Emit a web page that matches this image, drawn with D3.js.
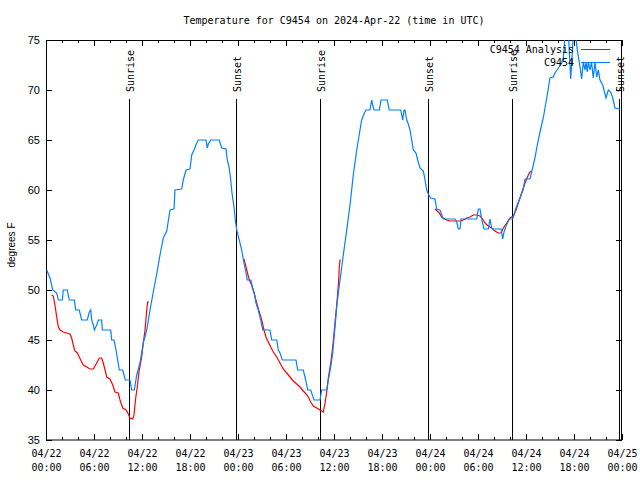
<!DOCTYPE html>
<html><head><meta charset="utf-8">
<script src="https://cdn.jsdelivr.net/npm/d3@7"></script>
<style>body{margin:0;background:#fff}svg{display:block}</style>
</head><body><svg id="c" width="640" height="480"></svg>
<script>
// ---- data ----
const titleText = "Temperature for C9454 on 2024-Apr-22 (time in UTC)";
const yLabelText = "degrees F";
const seriesNames = ["C9454 Analysis", "C9454"];
const yTicks = [35, 40, 45, 50, 55, 60, 65, 70, 75];
const majorTickHours = [0, 6, 12, 18, 24, 30, 36, 42, 48, 54, 60, 66, 72];
const minorTickHours = [2, 4, 8, 10, 14, 16, 20, 22, 26, 28, 32, 34, 38, 40, 44, 46, 50, 52, 56, 58, 62, 64, 68, 70];
const eventLabels = ["Sunrise", "Sunset", "Sunrise", "Sunset", "Sunrise", "Sunset"];
const eventHours = [10.42, 23.75, 34.29, 47.79, 58.29, 71.67];

// observed temperature [hours since 04/22 00:00 UTC, degF]
const obsSeries = [
[0.09,52.0],[0.5,51.2],[0.84,50.0],[1.34,49.7],[1.54,49.0],[2.04,49.0],[2.16,50.0],[2.66,50.0],[2.91,49.0],[3.54,49.0],
[3.71,48.0],[4.16,48.0],[4.46,47.0],[5.16,47.0],[5.41,47.8],[5.59,48.0],[5.71,47.0],[5.91,46.5],[6.04,46.0],[6.34,46.5],
[6.54,47.0],[6.96,47.0],[7.04,46.0],[8.09,46.0],[8.21,45.0],[8.5,45.0],[8.75,44.0],[8.96,43.0],[9.16,42.0],[9.59,42.0],
[9.91,41.0],[10.5,41.0],[10.71,40.0],[11.04,40.0],[11.34,41.5],[11.75,42.7],[12.16,44.7],[12.59,46.0],[13.0,48.0],[13.41,49.8],
[13.84,51.6],[14.25,53.5],[14.66,55.2],[15.09,55.9],[15.5,58.0],[16.0,58.1],[16.12,60.0],[16.96,60.1],[17.16,61.0],[17.5,62.0],
[18.0,62.1],[18.21,63.5],[18.5,64.0],[18.84,64.7],[19.04,65.0],[20.0,65.0],[20.16,64.2],[20.29,64.6],[20.59,65.0],[21.66,65.0],
[21.96,64.2],[22.5,64.1],[22.66,63.0],[22.91,62.2],[23.09,61.0],[23.25,59.7],[23.5,58.3],[23.66,57.0],[23.84,56.0],[24.16,55.0],
[24.46,54.0],[24.75,52.7],[25.0,51.7],[25.16,51.0],[25.62,51.0],[25.79,50.3],[26.04,49.7],[26.25,48.7],[26.54,48.0],[26.84,47.0],
[27.09,46.0],[28.0,46.0],[28.21,45.0],[28.84,45.0],[29.04,44.0],[29.25,43.7],[29.54,43.0],[31.25,43.0],[31.46,42.0],[32.16,42.0],
[32.46,41.0],[32.71,40.0],[33.09,40.0],[33.5,39.0],[34.25,39.0],[34.46,40.0],[35.09,40.0],[35.29,41.0],[35.59,42.3],[35.84,43.7],
[36.04,45.5],[36.34,48.3],[36.54,49.7],[36.84,51.5],[37.16,53.5],[37.59,56.0],[38.0,58.5],[38.41,61.5],[38.84,64.0],[39.25,66.0],
[39.46,67.0],[39.79,67.7],[40.0,68.0],[40.5,68.0],[40.71,69.0],[40.84,68.5],[41.0,68.0],[41.66,68.0],[41.88,69.0],[42.66,69.0],
[42.91,68.0],[44.34,68.0],[44.59,67.0],[44.75,68.0],[44.88,68.0],[45.09,67.0],[45.29,66.6],[45.5,66.0],[45.71,65.0],[45.91,64.0],
[46.25,63.7],[46.46,63.0],[46.75,62.2],[47.16,61.9],[47.38,61.0],[47.59,60.0],[47.79,59.6],[48.09,59.2],[48.62,59.1],[48.84,58.1],
[49.25,58.0],[49.66,57.1],[51.12,57.1],[51.34,56.8],[51.54,56.1],[51.75,56.1],[51.88,57.1],[53.84,57.1],[54.04,58.1],[54.25,58.1],
[54.46,57.1],[54.75,56.1],[55.29,56.1],[55.5,57.1],[55.71,56.2],[55.84,56.1],[56.88,56.1],[57.09,55.1],[57.25,55.8],[57.5,56.4],
[57.91,57.1],[58.34,57.1],[58.75,58.2],[59.25,59.2],[59.66,60.1],[59.88,61.1],[60.5,61.1],[60.71,61.8],[61.12,63.2],[61.34,64.2],
[61.75,65.8],[62.16,67.2],[62.59,69.2],[63.0,71.2],[63.41,71.3],[63.62,71.7],[64.04,72.2],[64.46,72.7],[64.66,73.2],[64.88,75.5],
[65.31,75.5],[65.59,71.1],[65.71,72.7],[65.91,75.5],[66.25,75.2],[66.41,74.0],[66.66,72.8],[66.96,71.1],[67.16,72.8],[67.38,72.0],
[67.5,72.8],[67.66,71.8],[67.79,72.8],[68.0,72.0],[68.19,72.8],[68.41,71.2],[68.62,72.8],[68.84,71.3],[69.04,72.0],[69.25,71.0],
[69.59,70.5],[70.0,69.2],[70.29,70.0],[70.59,69.8],[70.84,69.2],[71.12,68.2],[71.66,68.1],[71.75,68.1]
];

// analysis temperature (null = gap)
const analysisSeries = [
[0.71,49.5],[0.91,49.4],[1.12,48.5],[1.34,47.3],[1.54,46.3],[1.75,46.0],[2.16,45.8],[2.59,45.7],[3.0,45.6],[3.21,45.2],
[3.41,44.5],[3.62,43.9],[3.91,43.7],[4.16,43.3],[4.46,42.8],[4.66,42.5],[5.09,42.3],[5.5,42.1],[5.91,42.1],[6.12,42.4],
[6.34,42.7],[6.66,43.2],[6.96,43.2],[7.16,42.7],[7.38,42.0],[7.59,41.3],[8.0,41.1],[8.34,40.5],[8.62,39.8],[9.04,39.7],
[9.25,39.0],[9.59,38.2],[10.0,38.0],[10.29,37.6],[10.5,37.2],[10.84,37.1],[11.0,37.5],[11.21,39.2],[11.41,40.3],[11.62,41.8],
[11.96,43.3],[12.16,44.7],[12.38,46.0],[12.59,48.0],[12.71,48.8],[12.88,48.8],
null,
[24.75,53.1],[25.09,52.0],[25.41,51.0],[25.71,50.5],[26.0,49.7],[26.34,48.7],[26.66,47.8],[26.96,47.0],[27.25,46.0],[27.5,45.3],
[27.79,44.8],[28.09,44.3],[28.41,43.8],[28.84,43.3],[29.25,42.7],[29.66,42.1],[30.09,41.7],[30.5,41.3],[30.91,40.9],[31.34,40.6],
[31.75,40.3],[32.16,39.9],[32.5,39.6],[32.79,39.3],[33.09,38.8],[33.41,38.4],[33.84,38.2],[34.25,38.0],[34.66,37.8],[34.88,38.7],
[35.09,39.8],[35.29,41.2],[35.59,42.7],[35.84,44.3],[36.12,46.7],[36.34,48.5],[36.46,49.7],[36.59,51.0],[36.66,52.3],[36.75,53.0],
[36.84,53.0],
null,
[48.62,58.1],[49.16,57.7],[49.46,57.3],[50.09,57.0],[50.5,56.9],[51.12,56.9],[51.75,56.9],[52.16,57.0],[52.59,57.2],[53.0,57.3],
[53.41,57.5],[53.84,57.5],[54.25,57.4],[54.59,57.1],[54.88,56.7],[55.29,56.4],[55.71,56.2],[56.12,55.9],[56.54,55.7],[56.88,55.7],
[57.16,56.2],[57.59,56.7],[58.0,57.2],[58.41,57.4],[58.75,58.0],[59.04,58.7],[59.46,59.7],[59.88,60.7],[60.29,61.5],[60.5,61.8],
[60.71,61.9]
];

// ---- drawing ----
const colors = {analysis: "#ff0000", obs: "#0080ff"};
const mono = "'DejaVu Sans Mono', 'Liberation Mono', monospace";
const sans = "'Liberation Sans', Arial, sans-serif";
const t0 = Date.UTC(2024, 3, 22);
const toDate = h => new Date(t0 + h * 3600000);

const svg = d3.select("#c");
svg.append("rect").attr("width", 640).attr("height", 480).attr("fill", "#fff");

const x = d3.scaleUtc().domain([toDate(0), toDate(72)]).range([46, 622]);
const y = d3.scaleLinear().domain([35, 75]).range([440, 40]);

svg.append("clipPath").attr("id", "clip").append("rect")
  .attr("x", 46).attr("y", 40).attr("width", 576).attr("height", 400);

function styleAxis(g) {
  g.select(".domain").remove();
  g.selectAll(".tick line").attr("stroke", "#000").attr("shape-rendering", "crispEdges");
}

// bottom axis
svg.append("g").attr("transform", "translate(0,440)")
  .call(d3.axisBottom(x).tickValues(minorTickHours.map(toDate)).tickSize(-3).tickFormat(""))
  .call(styleAxis);
const bx = svg.append("g").attr("transform", "translate(0,440)")
  .call(d3.axisBottom(x).tickValues(majorTickHours.map(toDate)).tickSize(-6).tickFormat(""))
  .call(styleAxis);
const fDay = d3.utcFormat("%m/%d"), fTime = d3.utcFormat("%H:%M");
bx.selectAll(".tick").each(function(d) {
  const t = d3.select(this).select("text")
    .attr("font-family", mono).attr("font-size", 10).attr("fill", "#000")
    .attr("text-anchor", "middle").attr("y", 0).attr("dy", null);
  t.append("tspan").attr("x", 0).attr("y", 17).text(fDay(d));
  t.append("tspan").attr("x", 0).attr("y", 31).text(fTime(d));
});

// top axis (mirror)
svg.append("g").attr("transform", "translate(0,40)")
  .call(d3.axisTop(x).tickValues(minorTickHours.map(toDate)).tickSize(-3).tickFormat(""))
  .call(styleAxis);
svg.append("g").attr("transform", "translate(0,40)")
  .call(d3.axisTop(x).tickValues(majorTickHours.map(toDate)).tickSize(-6).tickFormat(""))
  .call(styleAxis);

// left axis
svg.append("g").attr("transform", "translate(46,0)")
  .call(d3.axisLeft(y).tickValues(yTicks).tickSize(-6).tickPadding(6).tickFormat(d3.format("d")))
  .call(styleAxis)
  .call(g => g.selectAll("text").attr("font-family", sans).attr("font-size", 11).attr("fill", "#000"));
// right axis
svg.append("g").attr("transform", "translate(622,0)")
  .call(d3.axisRight(y).tickValues(yTicks).tickSize(-6).tickFormat(""))
  .call(styleAxis);

// border
svg.append("rect").attr("x", 46.5).attr("y", 40.5).attr("width", 575).attr("height", 399.5)
  .attr("fill", "none").attr("stroke", "#000").attr("stroke-width", 1);

// event lines
const ev = svg.append("g");
eventHours.forEach((h, i) => {
  const xx = Math.round(x(toDate(h))) + 0.5;
  ev.append("line").attr("x1", xx).attr("x2", xx).attr("y1", 99).attr("y2", 440)
    .attr("stroke", "#000").attr("stroke-width", 1);
  ev.append("text").attr("transform", `translate(${xx + 4},92) rotate(-90)`)
    .attr("text-anchor", "start").attr("font-family", mono).attr("font-size", 10)
    .attr("fill", "#000").text(eventLabels[i]);
});

// data lines
const plot = svg.append("g").attr("clip-path", "url(#clip)");
const line = d3.line().defined(d => d !== null)
  .x(d => x(toDate(d[0]))).y(d => y(d[1]));
plot.append("path").datum(analysisSeries).attr("d", line)
  .attr("fill", "none").attr("stroke", colors.analysis).attr("stroke-width", 1.2);
plot.append("path").datum(obsSeries).attr("d", line)
  .attr("fill", "none").attr("stroke", colors.obs).attr("stroke-width", 1.2);

// legend
const leg = svg.append("g");
[[seriesNames[0], colors.analysis, 49], [seriesNames[1], colors.obs, 62]].forEach(([name, c, yy]) => {
  leg.append("text").attr("x", 574).attr("y", yy + 4).attr("text-anchor", "end")
    .attr("font-family", mono).attr("font-size", 10).attr("fill", "#000").text(name);
  leg.append("line").attr("x1", 581).attr("x2", 610).attr("y1", yy + 0.5).attr("y2", yy + 0.5)
    .attr("stroke", c).attr("stroke-width", 1);
});

// title
svg.append("text").attr("x", 334).attr("y", 24).attr("text-anchor", "middle")
  .attr("font-family", mono).attr("font-size", 10).attr("fill", "#000").text(titleText);

// y label
svg.append("text").attr("transform", "translate(15,245) rotate(-90)").attr("text-anchor", "middle")
  .attr("font-family", sans).attr("font-size", 10).attr("fill", "#000").text(yLabelText);
</script>
</body></html>
